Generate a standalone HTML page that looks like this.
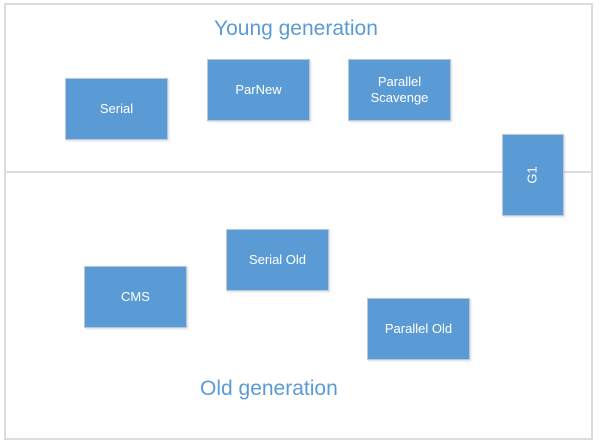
<!DOCTYPE html><html><head><style>
body{margin:0;width:600px;height:445px;background:#fff;position:relative;font-family:"Liberation Sans",sans-serif;overflow:hidden}
.b{position:absolute;background:#5b9bd5;border:1px solid #b8c8d8;color:#fff;font-size:13px;display:flex;align-items:center;justify-content:center;text-align:center;line-height:16px;box-sizing:border-box;box-shadow:1px 1px 2px rgba(0,0,0,.15)}
.t{position:absolute;color:#5b9bd5;font-size:21px;width:600px;text-align:center}
</style></head><body>
<div style="position:absolute;left:4px;top:3px;width:589px;height:437px;border:2px solid #d9dde2;box-sizing:border-box"></div>
<div style="position:absolute;left:4px;top:171px;width:589px;height:2px;background:#d9dde2"></div>
<div class="t" style="left:0;top:17px;text-align:left;padding-left:214px">Young generation</div>
<div class="t" style="top:377px;text-align:left;padding-left:200px">Old generation</div>
<div class="b" style="left:65px;top:78px;width:103px;height:62px">Serial</div>
<div class="b" style="left:207px;top:59px;width:103px;height:62px">ParNew</div>
<div class="b" style="left:348px;top:59px;width:103px;height:62px">Parallel<br>Scavenge</div>
<div class="b" style="left:502px;top:134px;width:62px;height:82px"><span style="transform:rotate(-90deg);display:inline-block">G1</span></div>
<div class="b" style="left:226px;top:229px;width:103px;height:62px">Serial Old</div>
<div class="b" style="left:84px;top:266px;width:103px;height:62px">CMS</div>
<div class="b" style="left:367px;top:298px;width:103px;height:62px">Parallel Old</div>
</body></html>
